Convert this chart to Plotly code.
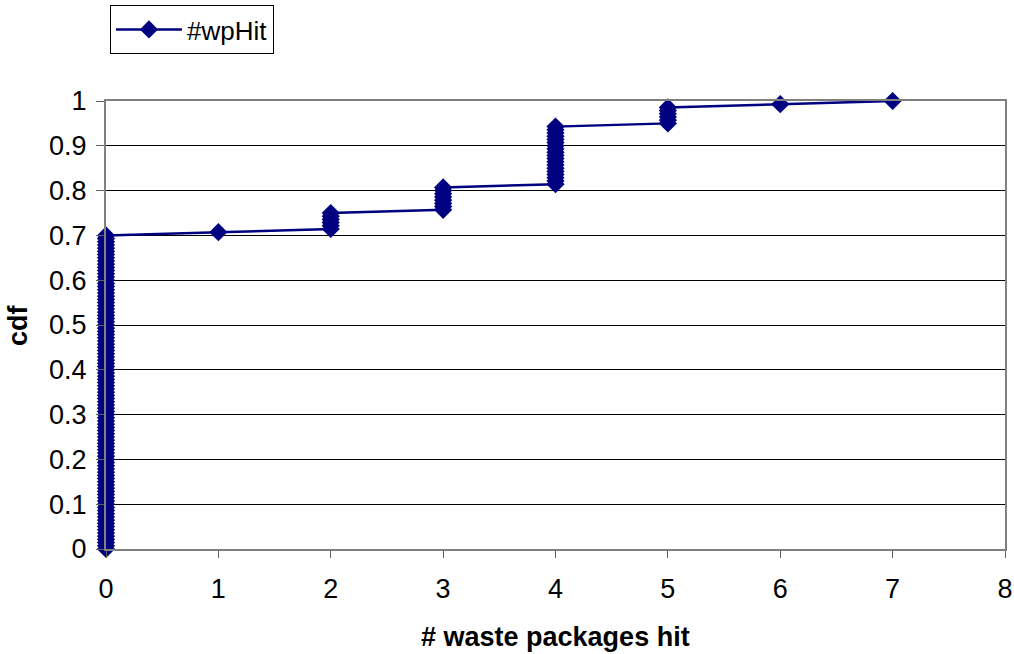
import numpy as np
import plotly.graph_objects as go

# values: number of samples at each count of waste packages hit
packages_hit = [0, 1, 2, 3, 4, 5, 6, 7]
sample_counts = [98, 1, 6, 8, 19, 6, 1, 1]
series_name = "#wpHit"
x_ticks = [0, 1, 2, 3, 4, 5, 6, 7, 8]
y_ticks = [0, 0.1, 0.2, 0.3, 0.4, 0.5, 0.6, 0.7, 0.8, 0.9, 1]
y_tick_text = ["0", "0.1", "0.2", "0.3", "0.4", "0.5", "0.6", "0.7", "0.8", "0.9", "1"]

# empirical cdf of the sorted samples (starting at 0)
n_total = sum(sample_counts)
xs = [0]
for v, c in zip(packages_hit, sample_counts):
    xs += [v] * c
cdf = [i / n_total for i in range(len(xs))]

FONT = "Arial, Liberation Sans, sans-serif"
NAVY = "#000080"
FS = 27

fig = go.Figure()
fig.add_trace(go.Scatter(
    x=xs, y=cdf, mode="lines+markers", name=series_name,
    line=dict(color=NAVY, width=2.5),
    marker=dict(symbol="diamond", size=14, color=NAVY),
    cliponaxis=False,
))

fig.update_layout(
    width=1014, height=654,
    margin=dict(l=106, r=9, t=101, b=105, autoexpand=False),
    paper_bgcolor="white", plot_bgcolor="white",
    font=dict(family=FONT, size=FS, color="black"),
    showlegend=True,
    legend=dict(
        x=0.0044, y=1.2143, xanchor="left", yanchor="top",
        bordercolor="black", borderwidth=1, bgcolor="white",
        font=dict(family=FONT, size=26, color="black"),
        itemwidth=66,
    ),
    xaxis=dict(
        range=[0, 8], tickvals=x_ticks, showgrid=False, zeroline=False,
        showline=True, linecolor="#808080", linewidth=2, mirror=True,
        ticks="outside", ticklen=7, tickcolor="#606060", tickwidth=1,
        ticklabelstandoff=8,
        tickfont=dict(family=FONT, size=FS), fixedrange=True, automargin=False,
    ),
    yaxis=dict(
        range=[0, 1], tickvals=y_ticks, ticktext=y_tick_text,
        showgrid=True, gridcolor="black", gridwidth=1, zeroline=False,
        showline=True, linecolor="#808080", linewidth=2, mirror=True,
        ticks="outside", ticklen=8, tickcolor="#606060", tickwidth=1,
        ticklabelstandoff=4,
        tickfont=dict(family=FONT, size=FS), fixedrange=True, automargin=False,
    ),
    annotations=[
        dict(text="<b># waste packages hit</b>", x=0.5, y=-0.196, xref="paper", yref="paper",
             xanchor="center", yanchor="middle", showarrow=False,
             font=dict(family=FONT, size=FS, color="black")),
        dict(text="<b>cdf</b>", x=-0.098, y=0.5, xref="paper", yref="paper",
             xanchor="center", yanchor="middle", showarrow=False, textangle=-90,
             font=dict(family=FONT, size=FS, color="black")),
    ],
)

# remove the default 8px page margin so the figure fills the window exactly
fig.write_html("out.html", config={"displayModeBar": False},
               post_script="document.body.style.margin='0';")
